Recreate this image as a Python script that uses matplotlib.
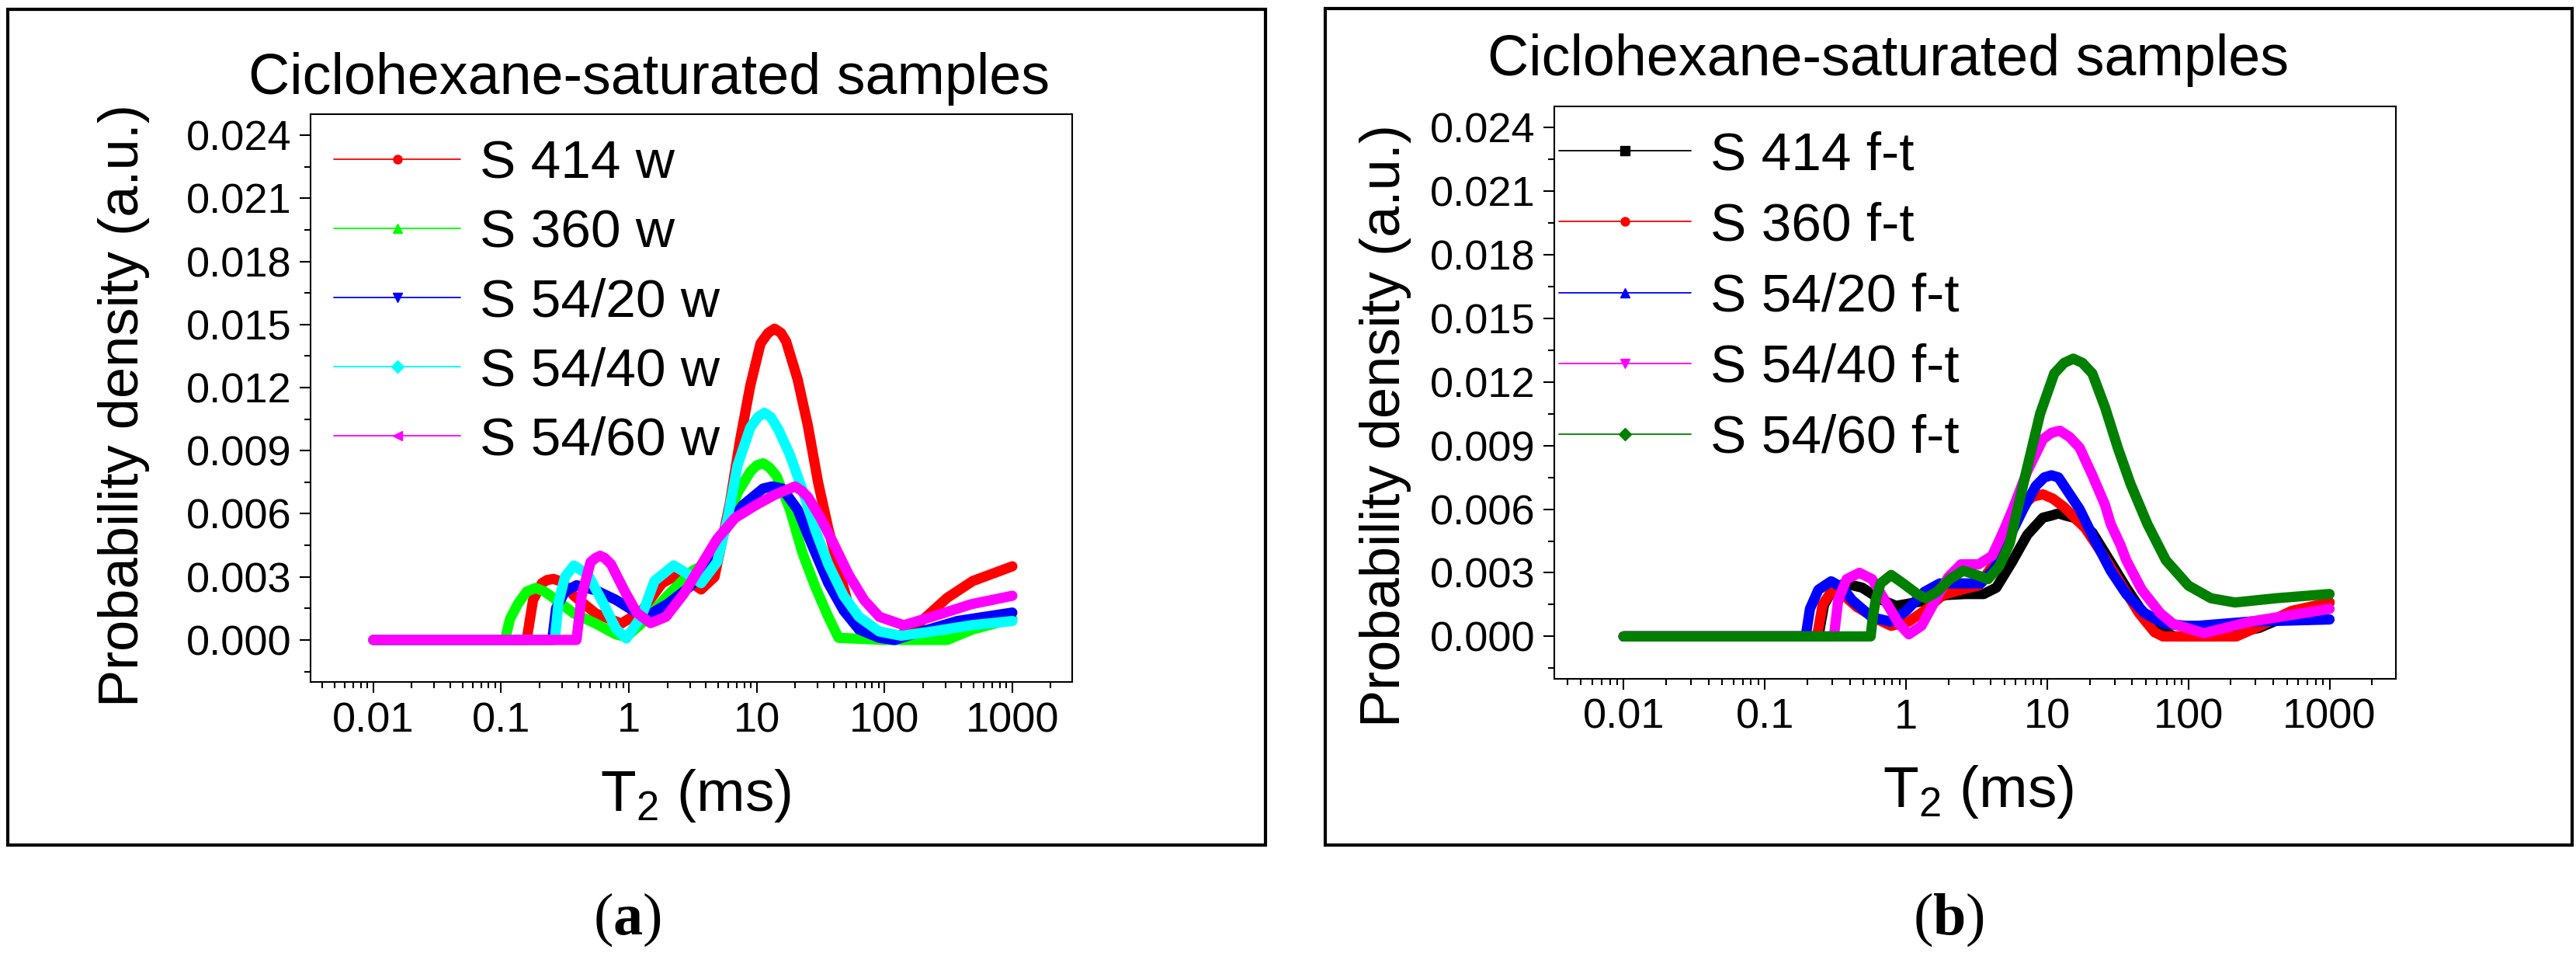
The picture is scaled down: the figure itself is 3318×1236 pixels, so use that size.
import numpy as np
import matplotlib
matplotlib.use('Agg')
import matplotlib.pyplot as plt
from matplotlib.lines import Line2D
from matplotlib.legend_handler import HandlerLine2D
from matplotlib.patches import Rectangle
from matplotlib.ticker import LogLocator, NullFormatter, MultipleLocator

plt.rcParams['font.family'] = ['Liberation Sans', 'DejaVu Sans']
plt.rcParams['mathtext.fontset'] = 'custom'
plt.rcParams['mathtext.rm'] = 'Liberation Sans'
plt.rcParams['mathtext.bf'] = 'Liberation Serif:bold'

# ---- datos: log10(T2 / ms) y densidad ----
# (a) muestras w
logt_414w = [-2.0, -0.80, -0.75, -0.68, -0.64, -0.59, -0.54, -0.50, -0.43, -0.26, -0.06, 0.10, 0.26,
             0.35, 0.47, 0.565, 0.67, 0.79, 0.87, 0.95, 1.03, 1.09, 1.14, 1.19, 1.23, 1.32, 1.40,
             1.48, 1.56, 1.64, 1.72, 1.80, 1.88, 2.07, 2.29, 2.49, 2.69, 3.0]
dens_414w = [0, 0, 0.0019, 0.0027, 0.00285, 0.0029, 0.0028, 0.0026, 0.0021, 0.00126, 0.00078, 0.00137,
             0.0027, 0.0030, 0.0028, 0.0024, 0.0030, 0.0065, 0.0095, 0.0121, 0.0141, 0.0146, 0.0148,
             0.0146, 0.0142, 0.0124, 0.0102, 0.0075, 0.0053, 0.0034, 0.0016, 0.0005, 0.0001, 0,
             0.0009, 0.0020, 0.0028, 0.0035]

logt_360w = [-2.0, -0.97, -0.93, -0.87, -0.80, -0.73, -0.66, -0.59, -0.43, -0.26, -0.10, -0.02, 0.14,
             0.30, 0.50, 0.63, 0.75, 0.85, 0.95, 1.0, 1.05, 1.10, 1.155, 1.26, 1.36, 1.46, 1.56, 1.64,
             2.0, 2.49, 2.69, 3.0]
dens_360w = [0, 0, 0.0010, 0.0017, 0.0023, 0.00247, 0.0023, 0.0020, 0.00126, 0.00078, 0.00026, 0.00015,
             0.0010, 0.0021, 0.0033, 0.0037, 0.0052, 0.0070, 0.0080, 0.0083, 0.0084, 0.0082, 0.0078,
             0.0062, 0.0041, 0.0025, 0.0011, 0.0001, 0, 0, 0.0005, 0.0010]

logt_5420w = [-2.0, -0.60, -0.57, -0.50, -0.41, -0.26, -0.10, 0.04, 0.14, 0.30, 0.47, 0.63, 0.75, 0.89,
              1.05, 1.12, 1.20, 1.32, 1.42, 1.56, 1.68, 1.80, 1.96, 2.08, 2.29, 2.57, 3.0]
dens_5420w = [0, 0, 0.0015, 0.0023, 0.0026, 0.00236, 0.0019, 0.00137, 0.00114, 0.0017, 0.0025, 0.0036,
              0.0052, 0.0064, 0.0072, 0.0073, 0.0072, 0.0062, 0.0047, 0.0027, 0.0014, 0.0005, 0.0001,
              0, 0.0004, 0.0009, 0.0013]

logt_5440w = [-2.0, -0.58, -0.55, -0.50, -0.43, -0.32, -0.20, -0.10, -0.02, 0.10, 0.20, 0.35, 0.47,
              0.565, 0.69, 0.77, 0.85, 0.95, 1.01, 1.06, 1.11, 1.17, 1.26, 1.36, 1.46, 1.56, 1.68,
              1.80, 1.96, 2.13, 2.37, 2.68, 3.0]
dens_5440w = [0, 0, 0.0018, 0.0030, 0.00354, 0.0031, 0.00174, 0.00052, 0.00007, 0.00114, 0.0028,
              0.00354, 0.0031, 0.0027, 0.0037, 0.0057, 0.0083, 0.0101, 0.0106, 0.0108, 0.0106, 0.0100,
              0.0088, 0.0071, 0.0052, 0.0036, 0.0021, 0.0011, 0.0004, 0.0002, 0.0004, 0.0007, 0.0009]

logt_5460w = [-2.0, -0.41, -0.37, -0.30, -0.26, -0.225, -0.19, -0.14, -0.04, 0.06, 0.17, 0.29, 0.43,
              0.55, 0.69, 0.83, 0.99, 1.14, 1.22, 1.30, 1.35, 1.40, 1.50, 1.60, 1.72, 1.84, 1.96, 2.15,
              2.37, 2.68, 3.0]
dens_5460w = [0, 0, 0.0021, 0.0037, 0.0039, 0.0040, 0.0039, 0.0036, 0.0024, 0.0013, 0.0008, 0.0011,
              0.0022, 0.0034, 0.0048, 0.0058, 0.0064, 0.0069, 0.0071, 0.0073, 0.0071, 0.0068, 0.0058,
              0.0046, 0.0031, 0.0019, 0.0011, 0.0007, 0.0011, 0.0017, 0.0021]

# (b) muestras f-t
logt_414ft = [-2.0, -0.62, -0.58, -0.52, -0.435, -0.31, -0.24, -0.20, -0.07, 0.15, 0.28, 0.42, 0.55,
              0.64, 0.75, 0.86, 0.97, 1.03, 1.08, 1.13, 1.19, 1.32, 1.45, 1.56, 1.67, 1.80, 1.90, 2.2,
              2.5, 2.75, 3.0]
dens_414ft = [0, 0, 0.0015, 0.0022, 0.0025, 0.0023, 0.0020, 0.0018, 0.00144, 0.0017, 0.00195, 0.0020,
              0.0020, 0.0023, 0.0035, 0.0048, 0.0056, 0.0057, 0.0058, 0.0057, 0.0056, 0.0049, 0.0035,
              0.0023, 0.0012, 0.0003, 0.0, 0.0, 0.0004, 0.0011, 0.0016]

logt_360ft = [-2.0, -0.63, -0.59, -0.52, -0.45, -0.35, -0.2, -0.105, 0.02, 0.15, 0.26, 0.39, 0.515,
              0.61, 0.70, 0.81, 0.90, 0.97, 1.04, 1.12, 1.27, 1.39, 1.52, 1.65, 1.76, 1.82, 2.34, 2.51,
              2.73, 3.0]
dens_360ft = [0, 0, 0.0015, 0.0022, 0.0020, 0.0014, 0.0008, 0.0005, 0.0007, 0.0013, 0.00195, 0.0022,
              0.0024, 0.0033, 0.0050, 0.0061, 0.0066, 0.0067, 0.0065, 0.0061, 0.0051, 0.0039, 0.0025,
              0.0011, 0.0002, 0, 0, 0.0005, 0.0012, 0.0016]

logt_5420ft = [-2.0, -0.71, -0.68, -0.62, -0.53, -0.45, -0.38, -0.24, -0.11, 0.0, 0.13, 0.24, 0.39,
               0.53, 0.625, 0.72, 0.83, 0.92, 0.98, 1.03, 1.08, 1.12, 1.23, 1.34, 1.45, 1.56, 1.69,
               1.83, 1.98, 2.07, 2.44, 3.0]
dens_5420ft = [0, 0, 0.0013, 0.0022, 0.0026, 0.0023, 0.0017, 0.0009, 0.0007, 0.0012, 0.0021, 0.0025,
               0.0025, 0.0025, 0.0032, 0.0045, 0.0060, 0.0071, 0.0075, 0.0076, 0.0075, 0.0071, 0.0060,
               0.0045, 0.0031, 0.0020, 0.0011, 0.0006, 0.0005, 0.0005, 0.0007, 0.0008]

logt_5440ft = [-2.0, -0.51, -0.48, -0.42, -0.33, -0.24, -0.14, -0.05, 0.02, 0.11, 0.20, 0.30, 0.39,
               0.515, 0.61, 0.68, 0.75, 0.86, 0.97, 1.03, 1.09, 1.16, 1.23, 1.32, 1.41, 1.45, 1.52,
               1.56, 1.67, 1.80, 1.89, 2.11, 2.44, 3.0]
dens_5440ft = [0, 0, 0.0017, 0.0027, 0.0030, 0.0027, 0.0016, 0.0006, 0.0001, 0.0005, 0.0016, 0.0028,
               0.0034, 0.0034, 0.0038, 0.0048, 0.0059, 0.0078, 0.0093, 0.0096, 0.0097, 0.0094, 0.0089,
               0.0076, 0.0062, 0.0053, 0.0043, 0.0036, 0.0022, 0.0011, 0.0006, 0.00015, 0.0007, 0.0013]

logt_5460ft = [-2.0, -0.25, -0.235, -0.215, -0.18, -0.105, -0.02, 0.08, 0.14, 0.22, 0.31, 0.405, 0.50,
               0.58, 0.66, 0.735, 0.79, 0.86, 0.95, 1.05, 1.12, 1.185, 1.25, 1.32, 1.41, 1.50, 1.59,
               1.71, 1.84, 2.0, 2.16, 2.33, 2.62, 3.0]
dens_5460ft = [0, 0, 0.0009, 0.0017, 0.0025, 0.0029, 0.0025, 0.0020, 0.0018, 0.0021, 0.0027, 0.0031,
               0.0029, 0.0027, 0.0033, 0.0044, 0.0060, 0.0080, 0.0105, 0.0124, 0.0129, 0.0131, 0.0129,
               0.0124, 0.0108, 0.0089, 0.0072, 0.0053, 0.0036, 0.0024, 0.0018, 0.0016, 0.0018, 0.0020]

labels_w = ['S 414 w', 'S 360 w', 'S 54/20 w', 'S 54/40 w', 'S 54/60 w']
labels_ft = ['S 414 f-t', 'S 360 f-t', 'S 54/20 f-t', 'S 54/40 f-t', 'S 54/60 f-t']
colors_w = ['#ff0000', '#00ff00', '#0000ff', '#00ffff', '#ff00ff']
colors_ft = ['#000000', '#ff0000', '#0000ff', '#ff00ff', '#008000']
markers_w = ['o', '^', 'v', 'D', '<']
markers_ft = ['s', 'o', '^', 'v', 'D']

series_w = [(logt_414w, dens_414w), (logt_360w, dens_360w), (logt_5420w, dens_5420w),
            (logt_5440w, dens_5440w), (logt_5460w, dens_5460w)]
series_ft = [(logt_414ft, dens_414ft), (logt_360ft, dens_360ft), (logt_5420ft, dens_5420ft),
             (logt_5440ft, dens_5440ft), (logt_5460ft, dens_5460ft)]

xticks = [0.01, 0.1, 1, 10, 100, 1000]
xtick_labels = ['0.01', '0.1', '1', '10', '100', '1000']


# handle fino en la leyenda, como en Origin
def thin_handle(handle, orig):
    handle.update_from(orig)
    handle.set_linewidth(1.3)
    handle.set_markersize(8)
    handle.set_markevery([1])


def draw_panel(ax, series, labels, colors, markers, leg_anchor, hlen, lspace):
    for (lt, d), lab, c, m in zip(series, labels, colors, markers):
        ax.plot(10 ** np.array(lt), d, color=c, lw=9.5, marker=m, markersize=0,
                solid_capstyle='round', solid_joinstyle='round', label=lab)
    ax.set_xscale('log')
    ax.set_xlim(10 ** -2.49, 10 ** 3.47)
    ax.set_ylim(-0.002, 0.025)
    ax.set_xticks(xticks, labels=xtick_labels)
    ax.xaxis.set_minor_locator(LogLocator(base=10, subs=np.arange(2, 10), numticks=20))
    ax.xaxis.set_minor_formatter(NullFormatter())
    ax.set_yticks(np.arange(0, 0.0241, 0.003))
    ax.yaxis.set_major_formatter(lambda v, p: '%.3f' % v)
    ax.yaxis.set_minor_locator(MultipleLocator(0.0015))
    ax.tick_params(which='major', length=10, width=1.5, labelsize=39, pad=8)
    ax.tick_params(which='minor', length=6, width=1.5)
    for s in ax.spines.values():
        s.set_linewidth(1.5)
    ax.legend(loc='upper left', bbox_to_anchor=leg_anchor, frameon=False, fontsize=50,
              handlelength=hlen, handletextpad=0.35, labelspacing=lspace, borderpad=0,
              borderaxespad=0, handler_map={Line2D: HandlerLine2D(update_func=thin_handle)})
    ax.set_ylabel('Probability density (a.u.)', fontsize=52)
    ax.set_xlabel(r'T$_2$ (ms)', fontsize=54)


fig = plt.figure(figsize=(33.18, 12.36), dpi=100)
ax1 = fig.add_axes([0.1206, 0.2896, 0.2957, 0.5914])
ax2 = fig.add_axes([0.6034, 0.2929, 0.3267, 0.5963])

draw_panel(ax1, series_w, labels_w, colors_w, markers_w, (0.03, 0.956), 2.36, 0.36)
draw_panel(ax2, series_ft, labels_ft, colors_ft, markers_ft, (0.005, 0.957), 2.46, 0.39)

ax1.yaxis.set_label_coords(-0.211, 0.487)
ax2.yaxis.set_label_coords(-0.170, 0.442)
ax1.xaxis.set_label_coords(0.505, -0.15)
ax2.xaxis.set_label_coords(0.504, -0.148)

fig.text(836 / 3318, 1 - 101 / 1236, 'Ciclohexane-saturated samples', fontsize=53,
         ha='center', va='center')
fig.text(2432 / 3318, 1 - 77 / 1236, 'Ciclohexane-saturated samples', fontsize=53,
         ha='center', va='center')

# marcos exteriores de cada panel
fig.add_artist(Rectangle((10 / 3318, 148 / 1236), 1620 / 3318, 1076 / 1236, transform=fig.transFigure,
                         fill=False, lw=3, edgecolor='black'))
fig.add_artist(Rectangle((1707 / 3318, 148 / 1236), 1606 / 3318, 1077 / 1236, transform=fig.transFigure,
                         fill=False, lw=3, edgecolor='black'))

fig.text(808 / 3318, 1 - 1184 / 1236, r'($\mathbf{a}$)', fontsize=55, family='Liberation Serif',
         ha='center', va='center')
fig.text(2510 / 3318, 1 - 1184 / 1236, r'($\mathbf{b}$)', fontsize=55, family='Liberation Serif',
         ha='center', va='center')

fig.savefig('out.png', dpi=100)
